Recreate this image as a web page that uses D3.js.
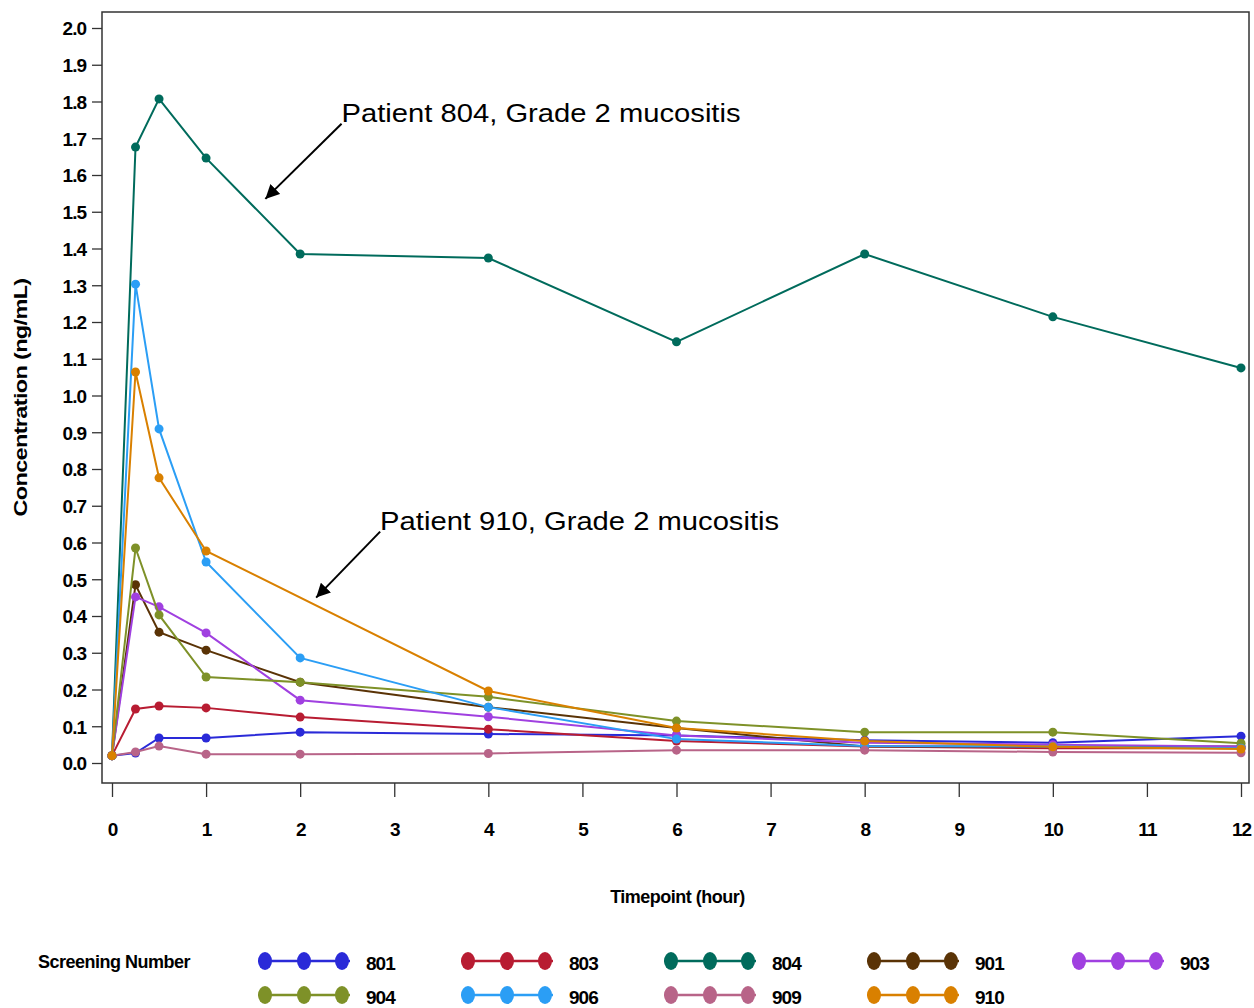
<!DOCTYPE html>
<html>
<head>
<meta charset="utf-8">
<script src="https://d3js.org/d3.v7.min.js"></script>
<style>
  body { margin: 0; background: #fff; }
  .tick-label { font-family: "Liberation Sans Narrow", "Liberation Sans", Arial, sans-serif; font-weight: bold; font-size: 19px; fill: #000; letter-spacing: -1px; }
  .axis-title { font-family: "Liberation Sans Narrow", "Liberation Sans", Arial, sans-serif; font-weight: bold; font-size: 18px; fill: #000; letter-spacing: -0.5px; }
  .note { font-family: "Liberation Sans", Arial, sans-serif; font-size: 26px; fill: #000; }
</style>
</head>
<body>
<svg width="1254" height="1008"></svg>
<script>
const times = [0, 0.25, 0.5, 1, 2, 4, 6, 8, 10, 12];
const patients = ["801", "803", "804", "901", "903", "904", "906", "909", "910"];
const colors = ["#2a2ad8", "#b81c32", "#006b5c", "#5a3306", "#a040e0", "#7e9128", "#2b9ef5", "#b86488", "#d98000"];

// concentration (ng/mL) per timepoint; null = not sampled
const c801 = [0.02, 0.027, 0.068, 0.068, 0.084, 0.079, 0.075, 0.062, 0.055, 0.073];
const c803 = [0.02, 0.147, 0.155, 0.150, 0.125, 0.092, 0.060, 0.045, 0.040, 0.040];
const c804 = [0.02, 1.676, 1.807, 1.646, 1.385, 1.374, 1.146, 1.385, 1.214, 1.075];
const c901 = [0.02, 0.485, 0.356, 0.307, 0.220, 0.152, 0.095, 0.045, 0.045, 0.045];
const c903 = [0.02, 0.452, 0.425, 0.354, 0.171, 0.126, 0.075, 0.055, 0.050, 0.045];
const c904 = [0.02, 0.585, 0.403, 0.234, 0.220, 0.180, 0.114, 0.084, 0.084, 0.054];
const c906 = [0.02, 1.303, 0.909, 0.547, 0.286, 0.152, 0.065, 0.046, 0.045, 0.040];
const c909 = [0.02, 0.030, 0.046, 0.024, 0.024, 0.026, 0.035, 0.035, 0.030, 0.028];
const c910 = [0.02, 1.064, 0.776, 0.577, null, 0.196, 0.095, 0.060, 0.044, 0.038];
const values = [c801, c803, c804, c901, c903, c904, c906, c909, c910];

const xTicks = d3.range(0, 13);
const yTicks = d3.range(0, 21).map(d => d / 10);

const svg = d3.select("svg");
const frame = { left: 102, right: 1249, top: 12, bottom: 783 };

const x = d3.scaleLinear().domain([0, 12]).range([112, 1241]);
const y = d3.scaleLinear().domain([0, 2]).range([763, 28]);

// arrowhead
svg.append("defs").append("marker")
    .attr("id", "arrow")
    .attr("viewBox", "0 -5 10 10")
    .attr("refX", 10).attr("refY", 0)
    .attr("markerWidth", 7).attr("markerHeight", 7)
    .attr("markerUnits", "strokeWidth")
    .attr("orient", "auto")
    .append("path").attr("d", "M0,-5L10,0L0,5Z").attr("fill", "#000");

// frame
svg.append("rect")
    .attr("x", frame.left).attr("y", frame.top)
    .attr("width", frame.right - frame.left).attr("height", frame.bottom - frame.top)
    .attr("fill", "none").attr("stroke", "#333").attr("stroke-width", 1.5);

// y axis
const yAxis = svg.append("g").attr("transform", `translate(${frame.left},0)`)
    .call(d3.axisLeft(y).tickValues(yTicks).tickFormat(d3.format(".1f")).tickSize(10).tickPadding(6));
yAxis.select(".domain").remove();
yAxis.selectAll(".tick line").attr("stroke", "#333").attr("stroke-width", 1.3);
yAxis.selectAll(".tick text").attr("class", "tick-label").attr("dy", "0.36em");

// x axis
const xAxis = svg.append("g").attr("transform", `translate(0,${frame.bottom})`)
    .call(d3.axisBottom(x).tickValues(xTicks).tickFormat(d3.format("d")).tickSize(14).tickPadding(26));
xAxis.select(".domain").remove();
xAxis.selectAll(".tick line").attr("stroke", "#333").attr("stroke-width", 1.3);
xAxis.selectAll(".tick text").attr("class", "tick-label");

// axis titles
svg.append("text").attr("class", "axis-title")
    .attr("transform", `translate(27,${(frame.top + frame.bottom) / 2}) rotate(-90)`)
    .attr("text-anchor", "middle")
    .attr("textLength", 238).attr("lengthAdjust", "spacingAndGlyphs")
    .text("Concentration  (ng/mL)");
svg.append("text").attr("class", "axis-title")
    .attr("x", (frame.left + frame.right) / 2 + 2).attr("y", 903)
    .attr("text-anchor", "middle")
    .text("Timepoint  (hour)");

// series
const line = d3.line().x(d => x(d.t)).y(d => y(d.v));
const series = patients.map((p, i) => ({
    id: p,
    color: colors[i],
    pts: times.map((t, j) => ({ t, v: values[i][j] })).filter(d => d.v !== null)
}));

const g = svg.append("g");
series.forEach(s => {
    g.append("path").datum(s.pts)
        .attr("d", line)
        .attr("fill", "none")
        .attr("stroke", s.color)
        .attr("stroke-width", 2);
    g.selectAll(null).data(s.pts).enter().append("circle")
        .attr("cx", d => x(d.t)).attr("cy", d => y(d.v))
        .attr("r", 4.5).attr("fill", s.color);
});

// annotations
const notes = [
    { text: "Patient 804, Grade 2 mucositis", tx: 2.44, ty: 1.745, ax: 1.63, ay: 1.535 },
    { text: "Patient 910, Grade 2 mucositis", tx: 2.85, ty: 0.635, ax: 2.17, ay: 0.45 }
];
notes.forEach(n => {
    svg.append("text").attr("class", "note")
        .attr("x", x(n.tx)).attr("y", y(n.ty))
        .attr("textLength", 399).attr("lengthAdjust", "spacingAndGlyphs")
        .text(n.text);
    svg.append("line")
        .attr("x1", x(n.tx)).attr("y1", y(n.ty) + 2)
        .attr("x2", x(n.ax)).attr("y2", y(n.ay))
        .attr("stroke", "#000").attr("stroke-width", 2)
        .attr("marker-end", "url(#arrow)");
});

// legend
svg.append("text").attr("class", "axis-title")
    .attr("x", 38).attr("y", 968)
    .text("Screening Number");
const legCols = [258, 461, 664, 867, 1072];
const legRows = [961, 995];
series.forEach((s, i) => {
    const cx = legCols[i % 5], cy = legRows[Math.floor(i / 5)];
    const lg = svg.append("g").attr("transform", `translate(${cx},${cy})`);
    lg.append("line").attr("x1", 0).attr("x2", 92).attr("y1", 0).attr("y2", 0)
        .attr("stroke", s.color).attr("stroke-width", 2.5);
    [7, 46, 84].forEach(px => {
        lg.append("ellipse").attr("cx", px).attr("cy", 0).attr("rx", 7).attr("ry", 9)
            .attr("fill", s.color);
    });
    lg.append("text").attr("class", "tick-label")
        .attr("x", 108).attr("y", 0).attr("dy", "0.45em")
        .text(s.id);
});
</script>
</body>
</html>
